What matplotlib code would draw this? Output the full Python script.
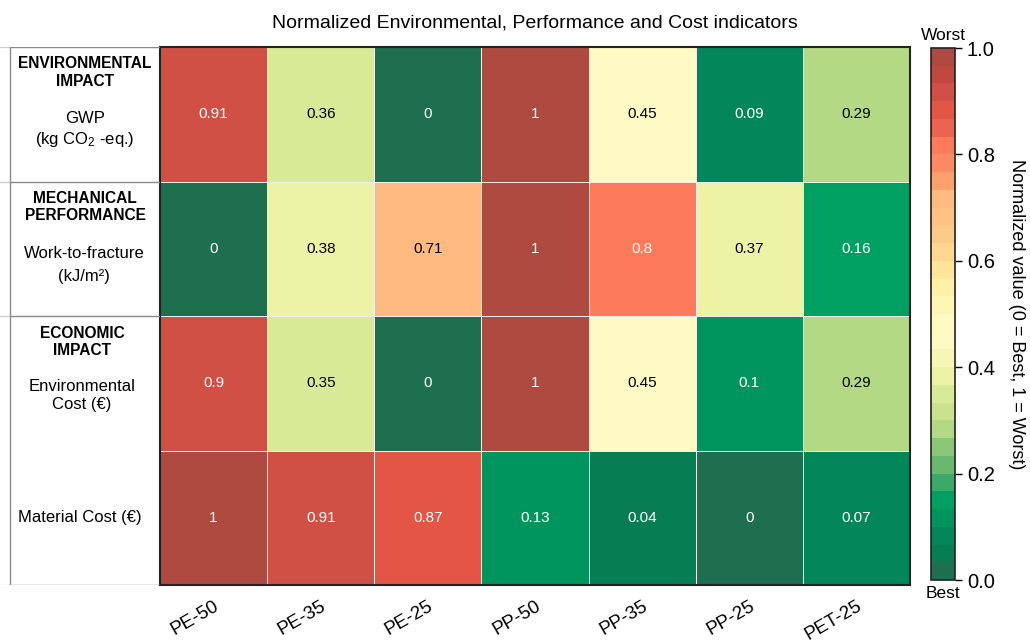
import matplotlib.pyplot as plt
import numpy as np
from matplotlib.colors import ListedColormap

plt.rcParams['font.family'] = ['Liberation Sans', 'DejaVu Sans']
plt.rcParams['mathtext.default'] = 'regular'

materials = ['PE-50', 'PE-35', 'PE-25', 'PP-50', 'PP-35', 'PP-25', 'PET-25']
gwp = [0.91, 0.36, 0, 1, 0.45, 0.09, 0.29]
work_to_fracture = [0, 0.38, 0.71, 1, 0.8, 0.37, 0.16]
env_cost = [0.9, 0.35, 0, 1, 0.45, 0.1, 0.29]
material_cost = [1, 0.91, 0.87, 0.13, 0.04, 0, 0.07]

# 30-step green -> yellow -> red scale
scale_colors = ['#1d6f50', '#067d52', '#03875a', '#00955e', '#00a062',
                '#3aa96a', '#6ab870', '#8cc678', '#b3d985', '#c8e28e',
                '#d9ea96', '#ecf3a4', '#f6f7b4', '#fff9c3', '#fffac2',
                '#fff6b6', '#fff0a8', '#fee59a', '#fed890', '#fdcb88',
                '#fdc284', '#ffba82', '#fea06e', '#fd8a62', '#fd7a5a',
                '#ec6450', '#e35545', '#d05045', '#bf483f', '#ae4a40']
cmap = ListedColormap(scale_colors)

data = np.array([gwp, work_to_fracture, env_cost, material_cost])
nrows, ncols = data.shape

W, H = 1030, 643
fig = plt.figure(figsize=(W / 100, H / 100), dpi=100)

# main heatmap
ax = fig.add_axes([160 / W, 1 - 585 / H, 750 / W, 538 / H])
mesh = ax.pcolormesh(data, cmap=cmap, vmin=0, vmax=1,
                     edgecolors='#eeeeee', linewidth=0.4)
ax.set_xlim(0, ncols)
ax.set_ylim(nrows, 0)
for i in range(nrows):
    for j in range(ncols):
        v = data[i, j]
        col = 'white' if (v >= 0.8 or v <= 0.2) else 'black'
        ax.text(j + 0.5, i + 0.5, f'{v:g}', ha='center', va='center',
                fontsize=11, color=col)
ax.set_yticks([])
ax.set_xticks(np.arange(ncols) + 0.5)
ax.set_xticklabels(materials, rotation=30, ha='right',
                   rotation_mode='anchor', fontsize=13.5)
ax.tick_params(axis='x', length=0, pad=9)
for s in ax.spines.values():
    s.set_color('#222222')
    s.set_linewidth(1.5)
ax.set_title('Normalized Environmental, Performance and Cost indicators',
             fontsize=14, pad=14)

# left label panel
lax = fig.add_axes([0, 1 - 585 / H, 160 / W, 538 / H])
lax.set_xlim(0, 160)
lax.set_ylim(nrows, 0)
lax.axis('off')
lax.plot([10, 10], [0, nrows], color='#8a8a8a', lw=1)
for y in [0, 1, 2, 4]:
    lax.plot([0, 10], [y, y], color='#d0d0d0', lw=1)
    lax.plot([10, 160], [y, y], color='#8a8a8a', lw=1)

lax.text(85, 0.19, 'ENVIRONMENTAL\nIMPACT', ha='center', va='center',
         fontsize=11.2, fontweight='bold', linespacing=1.2)
lax.text(85, 0.53, 'GWP', ha='center', va='center', fontsize=12)
lax.text(85, 0.69, '(kg CO$_2$ -eq.)', ha='center', va='center', fontsize=12)
lax.text(85, 1.19, 'MECHANICAL\nPERFORMANCE', ha='center', va='center',
         fontsize=11.2, fontweight='bold', linespacing=1.2)
lax.text(84, 1.535, 'Work-to-fracture', ha='center', va='center', fontsize=12)
lax.text(84, 1.71, '(kJ/m²)', ha='center', va='center', fontsize=12)
lax.text(82, 2.195, 'ECONOMIC\nIMPACT', ha='center', va='center',
         fontsize=11.2, fontweight='bold', linespacing=1.2)
lax.text(82, 2.59, 'Environmental\nCost (€)', ha='center', va='center',
         fontsize=12, linespacing=1.3)
lax.text(80, 3.5, 'Material Cost (€)', ha='center', va='center', fontsize=12)

# colorbar
cax = fig.add_axes([931 / W, 1 - 580 / H, 24 / W, 532 / H])
cb = fig.colorbar(mesh, cax=cax)
cb.set_ticks([0, 0.2, 0.4, 0.6, 0.8, 1.0])
cb.set_ticklabels(['0.0', '0.2', '0.4', '0.6', '0.8', '1.0'])
cb.ax.tick_params(labelsize=14.5, length=5, width=1)
cb.outline.set_color('#222222')
cb.outline.set_linewidth(1.2)
cb.set_label('Normalized value (0 = Best, 1 = Worst)', rotation=270,
             fontsize=13, labelpad=22)
cax.text(0.5, 1.01, 'Worst', transform=cax.transAxes, ha='center',
         va='bottom', fontsize=12.5)
cax.text(0.5, -0.012, 'Best', transform=cax.transAxes, ha='center',
         va='top', fontsize=12.5)

fig.savefig('out.png', dpi=100)
